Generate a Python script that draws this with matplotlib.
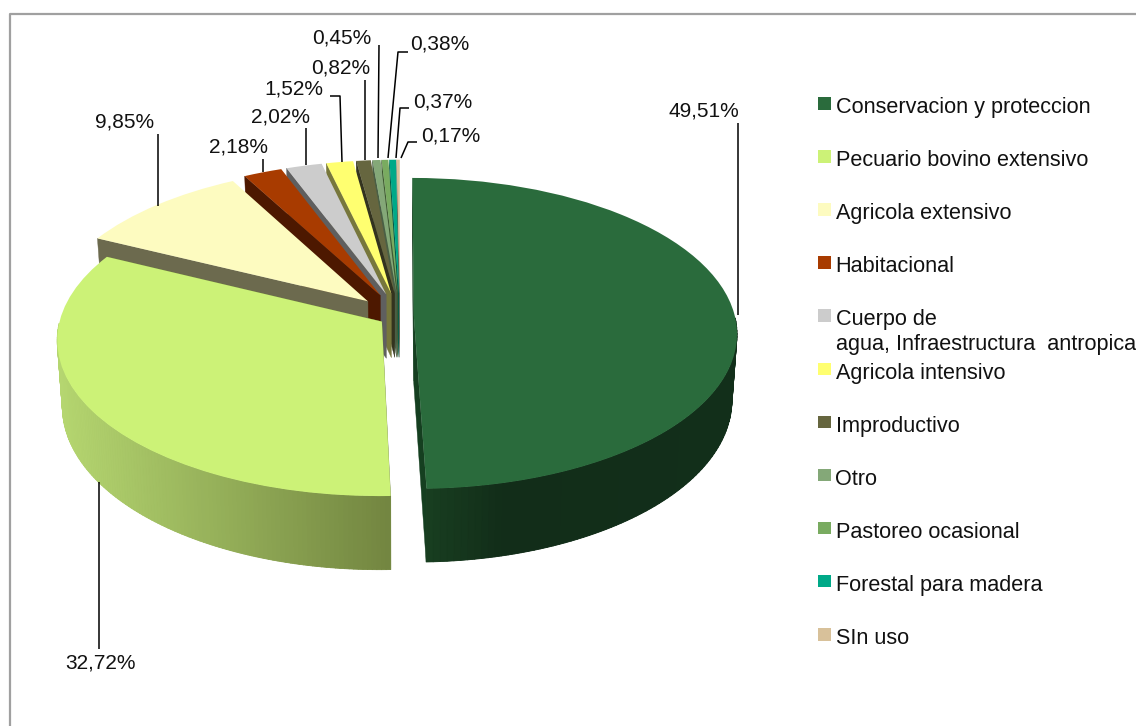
import numpy as np
import matplotlib
matplotlib.use("Agg")
import matplotlib.pyplot as plt
from matplotlib.collections import PolyCollection
from matplotlib.patches import Rectangle
from matplotlib.transforms import Transform

plt.rcParams['font.family'] = ['Liberation Sans', 'DejaVu Sans']

categorias = ["Conservacion y proteccion", "Pecuario bovino extensivo", "Agricola extensivo",
              "Habitacional", "Cuerpo de\nagua, Infraestructura  antropica", "Agricola intensivo",
              "Improductivo", "Otro", "Pastoreo ocasional", "Forestal para madera", "SIn uso"]
valores = [49.51, 32.72, 9.85, 2.18, 2.02, 1.52, 0.82, 0.45, 0.38, 0.37, 0.17]
colores = ["#2a6b3c", "#ccf277", "#fdfbc0", "#a83b00", "#cccccc", "#ffff70",
           "#66663f", "#84a878", "#79ab60", "#00a988", "#d8c19a"]
caras = ["#153f20", "#728540", "#6c6a4e", "#4d1800", "#5f5f5f", "#77773c",
         "#33331f", "#4a5f45", "#3f5a32", "#005a48", "#6e6250"]
separacion = [0.043, 0.067, 0.14, 0.15, 0.15, 0.15, 0.15, 0.15, 0.15, 0.15, 0.15]

# centro y escala de la proyeccion, en pixeles
CX, CY, RX, RY, K = 400, 316, 321, 153.5, 0.1125
ALTO = 65


class Perspectiva(Transform):
    input_dims = 2
    output_dims = 2
    is_separable = False
    has_inverse = False

    def __init__(self, alto=0):
        super().__init__()
        self.alto = alto

    def transform_non_affine(self, xy):
        xy = np.asarray(xy, dtype=float)
        s = 1 / (1 + K * xy[:, 1])
        X = CX + RX * xy[:, 0] * s
        Y = CY - RY * xy[:, 1] * s
        if self.alto:
            X = CX + (X - CX) * 0.985
            Y = Y + self.alto * s
        return np.column_stack([X, Y])


arriba = Perspectiva()
abajo = Perspectiva(ALTO)

fig = plt.figure(figsize=(11.36, 7.26), dpi=100)
ax = fig.add_axes([0, 0, 1, 1])

wedges, _ = ax.pie(valores, explode=separacion, colors=colores, startangle=90, counterclock=False,
                   wedgeprops={'linewidth': 0})
ax.set_aspect('auto')
ax.set_xlim(0, 1136)
ax.set_ylim(726, 0)
ax.set_axis_off()

n = len(valores)
for i, w in enumerate(wedges):
    base = 10 * (n - i)
    w.set_transform(arriba + ax.transData)
    w.set_zorder(base + 3)
    c = np.array(w.center)
    th = np.radians(np.linspace(w.theta1, w.theta2, 160))
    borde = c + np.column_stack([np.cos(th), np.sin(th)])

    # caras radiales, en las porciones de atras solo se ve la de abajo
    extremos = (borde[0], borde[-1]) if i < 2 else (borde[-1],)
    for p in extremos:
        plano = np.array([c, p])
        poly = np.vstack([arriba.transform(plano), abajo.transform(plano)[::-1]])
        ax.fill(poly[:, 0], poly[:, 1], color=caras[i], lw=0.3, zorder=base + 1)

    # pared exterior, solo la parte que mira al frente, sombreada segun x
    frente = np.sin(th) < 0.0
    if not frente.any():
        continue
    t = arriba.transform(borde[frente])
    b = abajo.transform(borde[frente])
    pared = np.vstack([t, b[::-1]])
    xm = t[:-1, 0]
    if i == 0:
        rgb = np.column_stack([np.interp(xm, [425, 500, 738], [24, 18, 18]),
                               np.interp(xm, [425, 500, 738], [62, 45, 47]),
                               np.interp(xm, [425, 500, 738], [32, 25, 26])]) / 255
    else:
        rgb = np.column_stack([np.interp(xm, [60, 390], [181, 114]),
                               np.interp(xm, [60, 390], [214, 133]),
                               np.interp(xm, [60, 390], [112, 64])]) / 255
    ax.fill(pared[:, 0], pared[:, 1], color=np.mean(rgb, axis=0), lw=0, zorder=base + 1.5)
    quads = [[t[j], t[j + 1], b[j + 1], b[j]] for j in range(len(t) - 1)]
    ax.add_collection(PolyCollection(quads, facecolors=rgb, edgecolors=rgb, linewidths=0.6, zorder=base + 2))

# lineas guia y etiquetas de datos
etiquetas = [f"{v:.2f}%".replace(".", ",") for v in valores]
pos_texto = [(704, 111), (101, 663), (125, 122), (239, 147), (280, 117), (294, 89),
             (341, 68), (342, 38), (440, 44), (443, 102), (451, 136)]
guias = [[(737.5, 123), (737.5, 315)],
         [(98.5, 482), (98.5, 649)],
         [(158, 134), (158, 206)],
         [(263, 159), (263, 172)],
         [(306, 128), (306, 165)],
         [(330, 96), (340, 96), (342, 162)],
         [(365, 80), (365, 160)],
         [(379, 45), (378, 158)],
         [(408, 52), (398, 52), (388, 158)],
         [(409, 108), (400, 108), (396, 158)],
         [(417, 142), (408, 142), (401, 158)]]
for et, (tx, ty), g in zip(etiquetas, pos_texto, guias):
    g = np.array(g)
    ax.plot(g[:, 0], g[:, 1], color="black", lw=1.1, zorder=200, solid_capstyle='butt')
    ax.text(tx, ty, et, fontsize=15, ha='center', va='center', color="#111111", zorder=201)

# leyenda
for i, nombre in enumerate(categorias):
    y = 97 + 53.1 * i
    ax.add_patch(Rectangle((818, y), 13, 12.5, color=colores[i], lw=0, zorder=200))
    base_y = 112.5 + 53.2 * i
    for j, linea in enumerate(nombre.split("\n")):
        ax.text(835.5, base_y + 25 * j, linea, fontsize=15.6, va='baseline', color="#111111", zorder=201)

# marco del grafico
ax.plot([10, 10, 1136], [726, 14, 14], color="#a0a0a0", lw=1.6, zorder=0)
ax.set_xlim(0, 1136)
ax.set_ylim(726, 0)

fig.savefig("out.png", dpi=100)
